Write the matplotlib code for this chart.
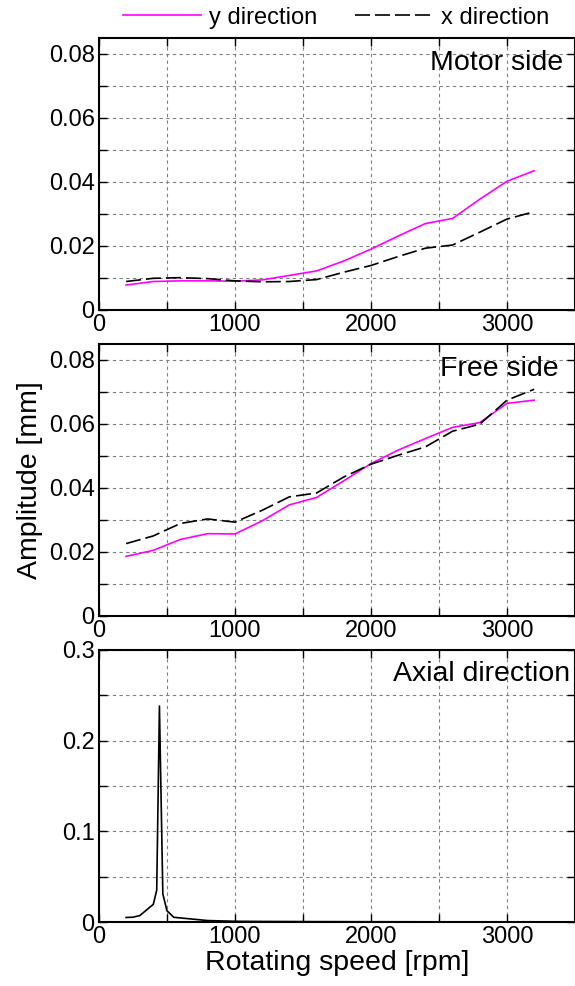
import matplotlib
matplotlib.use("Agg")
import matplotlib.pyplot as plt
from matplotlib.ticker import MultipleLocator

plt.rcParams["font.family"] = ["Liberation Sans", "DejaVu Sans"]

speed = [200, 400, 600, 800, 1000, 1200, 1400, 1600, 1800, 2000, 2200, 2400, 2600, 2800, 3000, 3200]

motor_y = [0.0078, 0.0089, 0.0091, 0.0091, 0.0090, 0.0094, 0.0108, 0.0122,
           0.0153, 0.0190, 0.0231, 0.0270, 0.0286, 0.0346, 0.0402, 0.0435]
motor_x = [0.0089, 0.0099, 0.0101, 0.0098, 0.0091, 0.0088, 0.0089, 0.0095,
           0.0118, 0.0139, 0.0167, 0.0193, 0.0203, 0.0243, 0.0284, 0.0307]

free_y = [0.0186, 0.0205, 0.0239, 0.0257, 0.0256, 0.0297, 0.0347, 0.0370,
          0.0422, 0.0476, 0.0518, 0.0554, 0.0589, 0.0604, 0.0664, 0.0674]
free_x = [0.0226, 0.0250, 0.0289, 0.0303, 0.0293, 0.0330, 0.0372, 0.0384,
          0.0434, 0.0474, 0.0502, 0.0528, 0.0577, 0.0599, 0.0674, 0.0708]

axial_speed = [200, 250, 300, 400, 425, 445, 470, 500, 550, 800, 1000, 1200, 1600, 2000, 2400, 2800, 3200]
axial_amp = [0.0050, 0.0053, 0.0070, 0.0195, 0.0350, 0.2380, 0.0310, 0.0125, 0.0052,
             0.0016, 0.0008, 0.0006, 0.0004, 0.0003, 0.0002, 0.0002, 0.0002]

MAGENTA = "#ff00ff"
DASH = (9, 3)
TICK_SIZE = 17
LABEL_SIZE = 20.5


def style_axes(ax, ymax, ymajor, yminor):
    ax.set_xlim(0, 3500)
    ax.set_ylim(0, ymax)
    ax.xaxis.set_major_locator(MultipleLocator(1000))
    ax.xaxis.set_minor_locator(MultipleLocator(500))
    ax.yaxis.set_major_locator(MultipleLocator(ymajor))
    ax.yaxis.set_minor_locator(MultipleLocator(yminor))
    ax.grid(True, which="both", linestyle=(0, (3, 3)), color="#808080", linewidth=0.8)
    ax.tick_params(which="both", direction="in", top=True, right=True,
                   length=6, width=1.0, labelsize=TICK_SIZE, pad=3)
    for spine in ax.spines.values():
        spine.set_linewidth(1.5)
    ax.set_axisbelow(True)


fig = plt.figure(figsize=(5.75, 9.86), dpi=100)
left, width, height = 0.172, 0.828, 0.276
ax1 = fig.add_axes([left, 0.6856, width, height])
ax2 = fig.add_axes([left, 0.3753, width, height])
ax3 = fig.add_axes([left, 0.0649, width, height])

ax1.plot(speed, motor_y, color=MAGENTA, lw=1.2, label="y direction")
ax1.plot(speed, motor_x, color="black", lw=1.2, dashes=DASH, label="x direction")
style_axes(ax1, 0.085, 0.02, 0.01)
ax1.set_yticks([0, 0.02, 0.04, 0.06, 0.08])
ax1.set_yticklabels(["0", "0.02", "0.04", "0.06", "0.08"])
ax1.text(0.975, 0.955, "Motor side", transform=ax1.transAxes, ha="right", va="top",
         fontsize=LABEL_SIZE)

ax2.plot(speed, free_y, color=MAGENTA, lw=1.2)
ax2.plot(speed, free_x, color="black", lw=1.2, dashes=DASH)
style_axes(ax2, 0.085, 0.02, 0.01)
ax2.set_yticks([0, 0.02, 0.04, 0.06, 0.08])
ax2.set_yticklabels(["0", "0.02", "0.04", "0.06", "0.08"])
ax2.text(0.965, 0.955, "Free side", transform=ax2.transAxes, ha="right", va="top",
         fontsize=LABEL_SIZE)
ax2.set_ylabel("Amplitude [mm]", fontsize=LABEL_SIZE, labelpad=4)

ax3.plot(axial_speed, axial_amp, color="black", lw=1.2)
style_axes(ax3, 0.3, 0.1, 0.05)
ax3.set_yticks([0, 0.1, 0.2, 0.3])
ax3.set_yticklabels(["0", "0.1", "0.2", "0.3"])
ax3.text(0.99, 0.96, "Axial direction", transform=ax3.transAxes, ha="right", va="top",
         fontsize=LABEL_SIZE)
ax3.set_xlabel("Rotating speed [rpm]", fontsize=LABEL_SIZE, labelpad=1)

for ax in (ax1, ax2, ax3):
    ax.set_xticks([0, 1000, 2000, 3000])
    ax.set_xticklabels(["0", "1000", "2000", "3000"])

fig.legend(*ax1.get_legend_handles_labels(), loc="center", ncol=2,
           bbox_to_anchor=(0.585, 0.982), frameon=False, fontsize=17,
           handlelength=3.3, columnspacing=1.6, handletextpad=0.35)

fig.savefig("out.png", dpi=100)
